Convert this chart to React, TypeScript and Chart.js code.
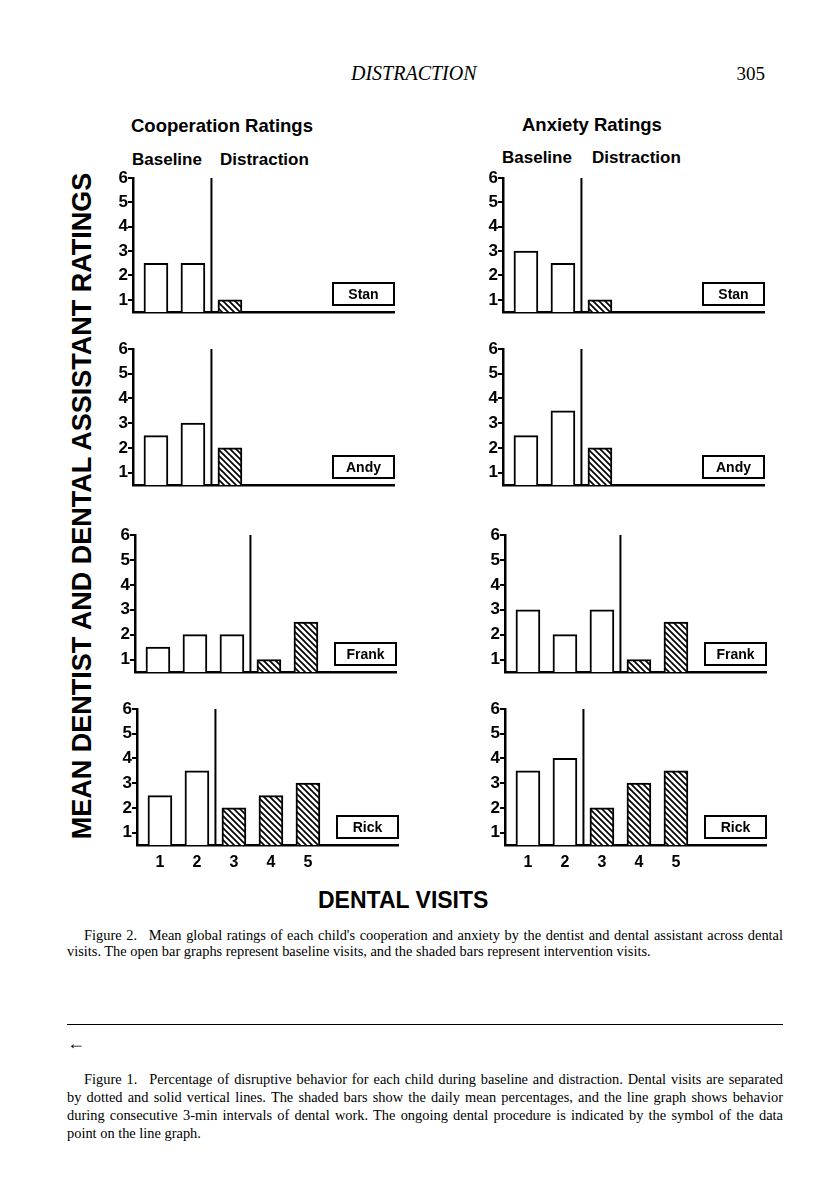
import React, { useEffect, useRef } from "react";
import { Chart, registerables } from "chart.js";

Chart.register(...registerables);

// ---------- data ----------
const visits = [1, 2, 3, 4, 5];
const ratingTicks = [1, 2, 3, 4, 5, 6];
const children = ["Stan", "Andy", "Frank", "Rick"];
const baselineCounts = [2, 2, 3, 2];
const cooperationStan = [2.5, 2.5, 1];
const cooperationAndy = [2.5, 3, 2];
const cooperationFrank = [1.5, 2, 2, 1, 2.5];
const cooperationRick = [2.5, 3.5, 2, 2.5, 3];
const anxietyStan = [3, 2.5, 1];
const anxietyAndy = [2.5, 3.5, 2];
const anxietyFrank = [3, 2, 3, 1, 2.5];
const anxietyRick = [3.5, 4, 2, 3, 3.5];
const cooperationSeries = [cooperationStan, cooperationAndy, cooperationFrank, cooperationRick];
const anxietySeries = [anxietyStan, anxietyAndy, anxietyFrank, anxietyRick];

// ---------- layout ----------
const ROW_TOP = [178, 349, 535, 709];
const ROW_BASE = [312, 485, 672, 845];
const COL_AXIS = [
  [133, 133, 135, 137],
  [503, 503, 505, 505],
];
const AREA_W = 261;
const Y_MIN = 0.5;
const Y_MAX = 6;
const X_MIN = 0.38;
const X_MAX = X_MIN + AREA_W / 37;
const SANS = '"Liberation Sans", Arial, sans-serif';
const SERIF = '"Liberation Serif", "Times New Roman", serif';

function makeHatch(): CanvasPattern | string {
  const c = document.createElement("canvas");
  const s = 6;
  c.width = s;
  c.height = s;
  const g = c.getContext("2d");
  if (!g) return "#888";
  g.fillStyle = "#fff";
  g.fillRect(0, 0, s, s);
  g.strokeStyle = "#000";
  g.lineWidth = 1.7;
  g.beginPath();
  g.moveTo(-1, -1);
  g.lineTo(s + 1, s + 1);
  g.moveTo(-1, s - 1);
  g.lineTo(1, s + 1);
  g.moveTo(s - 1, -1);
  g.lineTo(s + 1, 1);
  g.stroke();
  const p = g.createPattern(c, "repeat");
  return p || "#888";
}

function Panel(props: {
  values: number[];
  name: string;
  baseline: number;
  showX: boolean;
  axisX: number;
  top: number;
  base: number;
}) {
  const { values, name, baseline, showX, axisX, top, base } = props;
  const ref = useRef<HTMLCanvasElement>(null);
  const padL = 45,
    padT = 12,
    padR = 6,
    padB = 30;
  const w = padL + AREA_W + padR;
  const h = padT + (base - top) + padB;

  useEffect(() => {
    if (!ref.current) return;
    const hatch = makeHatch();
    const data = values.map((v, i) => ({ x: visits[i], y: v }));
    const phasePlugin = {
      id: "phaseLine",
      afterDatasetsDraw(chart: any) {
        const { ctx, chartArea, scales } = chart;
        const x = scales.x.getPixelForValue(baseline + 0.5);
        const yTop = scales.y.getPixelForValue(Y_MAX);
        ctx.save();
        ctx.strokeStyle = "#000";
        ctx.lineWidth = 2;
        ctx.beginPath();
        ctx.moveTo(x, yTop);
        ctx.lineTo(x, chartArea.bottom);
        ctx.stroke();
        ctx.restore();
      },
    };
    const namePlugin = {
      id: "nameBox",
      afterDatasetsDraw(chart: any) {
        const { ctx, chartArea } = chart;
        const bw = 61,
          bh = 22;
        const x = chartArea.right - bw;
        const y = chartArea.bottom - 7 - bh;
        ctx.save();
        ctx.fillStyle = "#fff";
        ctx.fillRect(x, y, bw, bh);
        ctx.lineWidth = 2;
        ctx.strokeStyle = "#000";
        ctx.strokeRect(x, y, bw, bh);
        ctx.fillStyle = "#000";
        ctx.font = `bold 14px ${SANS}`;
        ctx.textAlign = "center";
        ctx.textBaseline = "middle";
        ctx.fillText(name, x + bw / 2, y + bh / 2 + 1);
        ctx.restore();
      },
    };
    const chart = new Chart(ref.current, {
      type: "bar",
      data: {
        datasets: [
          {
            data: data as any,
            backgroundColor: values.map((_, i) => (i < baseline ? "#fff" : hatch)) as any,
            borderColor: "#000",
            borderWidth: 2,
            barThickness: 24,
            borderSkipped: "start",
          },
        ],
      },
      options: {
        responsive: false,
        maintainAspectRatio: false,
        animation: false,
        events: [],
        layout: { padding: { left: 0, top: padT, right: padR, bottom: 0 } },
        plugins: { legend: { display: false }, tooltip: { enabled: false } },
        scales: {
          x: {
            type: "linear",
            min: X_MIN,
            max: X_MAX,
            offset: false,
            afterBuildTicks: (s: any) => {
              s.ticks = visits.map((v) => ({ value: v }));
            },
            afterFit: (s: any) => {
              s.height = padB;
            },
            grid: { display: false, drawTicks: false, offset: false },
            border: { display: true, color: "#000", width: 2.5 },
            ticks: {
              display: showX,
              color: "#000",
              autoSkip: false,
              maxRotation: 0,
              padding: 8,
              font: { family: SANS, size: 16, weight: "bold" },
            },
          },
          y: {
            type: "linear",
            min: Y_MIN,
            max: Y_MAX,
            afterBuildTicks: (s: any) => {
              s.ticks = ratingTicks.map((v) => ({ value: v }));
            },
            afterFit: (s: any) => {
              s.width = padL;
            },
            grid: {
              display: true,
              drawOnChartArea: false,
              drawTicks: true,
              tickLength: 5,
              color: "#000",
              lineWidth: 2,
            },
            border: { display: true, color: "#000", width: 2.5 },
            ticks: {
              color: "#000",
              padding: 0,
              font: { family: SANS, size: 17, weight: "bold" },
            },
          },
        },
      } as any,
      plugins: [phasePlugin, namePlugin],
    });
    return () => chart.destroy();
  }, []);

  return (
    <canvas
      ref={ref}
      width={w}
      height={h}
      style={{ position: "absolute", left: axisX - padL, top: top - padT, width: w, height: h }}
    />
  );
}

function Txt(props: {
  x: number;
  y: number;
  size: number;
  text: string;
  bold?: boolean;
  italic?: boolean;
  serif?: boolean;
  align?: "left" | "right";
}) {
  const { x, y, size, text, bold, italic, serif, align } = props;
  const style: React.CSSProperties = {
    position: "absolute",
    top: y - size / 2,
    fontSize: size,
    lineHeight: `${size}px`,
    fontFamily: serif ? SERIF : SANS,
    fontWeight: bold ? 700 : 400,
    fontStyle: italic ? "italic" : "normal",
    whiteSpace: "nowrap",
    color: "#000",
  };
  if (align === "right") style.right = 816 - x;
  else style.left = x;
  return <div style={style}>{text}</div>;
}

const fig2Lines = [
  "Figure 2.\u2002 Mean global ratings of each child's cooperation and anxiety by the dentist and dental assistant across dental",
  "visits. The open bar graphs represent baseline visits, and the shaded bars represent intervention visits.",
];
const fig1Lines = [
  "Figure 1.\u2002 Percentage of disruptive behavior for each child during baseline and distraction. Dental visits are separated",
  "by dotted and solid vertical lines. The shaded bars show the daily mean percentages, and the line graph shows behavior",
  "during consecutive 3-min intervals of dental work. The ongoing dental procedure is indicated by the symbol of the data",
  "point on the line graph.",
];

function Caption(props: { lines: string[]; top: number; lh: number; size: number }) {
  const { lines, top, lh, size } = props;
  return (
    <>
      {lines.map((l, i) => {
        const last = i === lines.length - 1;
        const indent = i === 0 ? 17 : 0;
        return (
          <div
            key={i}
            style={{
              position: "absolute",
              left: 67 + indent,
              width: 716 - indent,
              top: top + i * lh - lh / 2,
              lineHeight: `${lh}px`,
              fontSize: size,
              fontFamily: SERIF,
              textAlign: last ? "left" : "justify",
              textAlignLast: last ? "left" : "justify",
              whiteSpace: "nowrap",
              color: "#000",
            } as React.CSSProperties}
          >
            {l}
          </div>
        );
      })}
    </>
  );
}

export default function App() {
  const series = [cooperationSeries, anxietySeries];
  return (
    <div style={{ position: "absolute", left: 0, top: 0, width: 816, height: 1195, background: "#fff", overflow: "hidden" }}>
      <Txt x={351} y={73} size={20} text="DISTRACTION" italic serif />
      <Txt x={765} y={73} size={19} text="305" serif align="right" />

      <Txt x={131} y={126} size={18.5} text="Cooperation Ratings" bold />
      <Txt x={522} y={125} size={18.5} text="Anxiety Ratings" bold />
      <Txt x={132} y={159} size={17} text="Baseline" bold />
      <Txt x={220} y={159} size={17} text="Distraction" bold />
      <Txt x={502} y={157} size={17} text="Baseline" bold />
      <Txt x={592} y={157} size={17} text="Distraction" bold />

      <div
        style={{
          position: "absolute",
          left: 82,
          top: 506,
          transform: "translate(-50%, -50%) rotate(-90deg)",
          fontFamily: SANS,
          fontWeight: 700,
          fontSize: 27,
          lineHeight: "27px",
          whiteSpace: "nowrap",
          color: "#000",
        }}
      >
        MEAN DENTIST AND DENTAL ASSISTANT RATINGS
      </div>

      {series.map((col, c) =>
        col.map((vals, r) => (
          <Panel
            key={`${c}-${r}`}
            values={vals}
            name={children[r]}
            baseline={baselineCounts[r]}
            showX={r === 3}
            axisX={COL_AXIS[c][r]}
            top={ROW_TOP[r]}
            base={ROW_BASE[r]}
          />
        ))
      )}

      <Txt x={318} y={900} size={23} text="DENTAL VISITS" bold />

      <Caption lines={fig2Lines} top={935} lh={16} size={14.4} />

      <div style={{ position: "absolute", left: 67, top: 1024, width: 716, height: 0, borderTop: "1.5px solid #000" }} />
      <Txt x={67} y={1043} size={18} text={"\u2190"} serif />

      <Caption lines={fig1Lines} top={1080} lh={17.8} size={14.4} />
    </div>
  );
}
